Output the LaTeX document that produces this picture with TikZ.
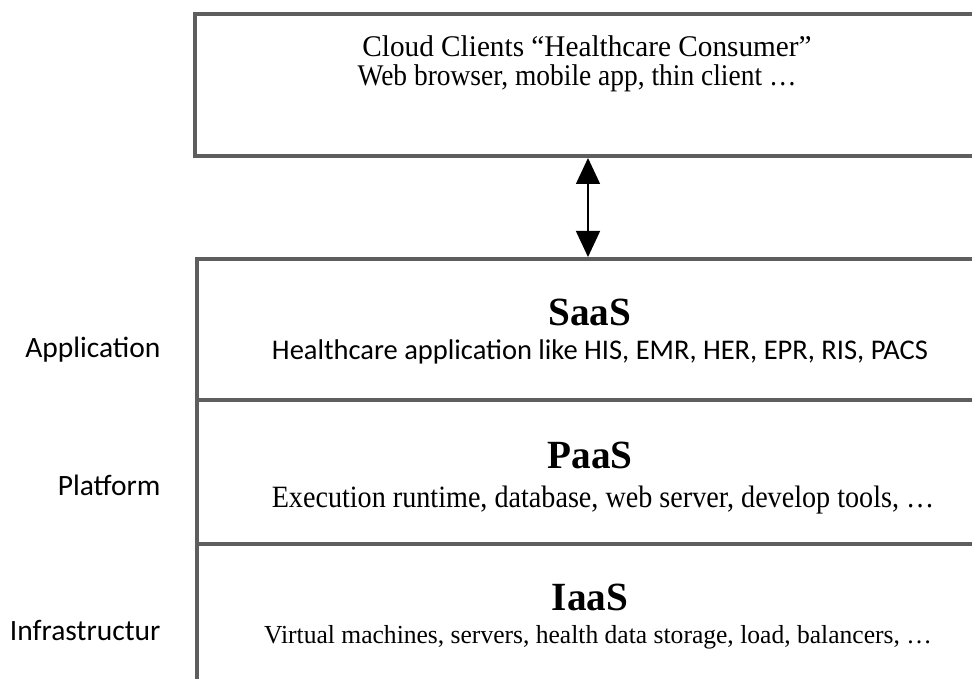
\documentclass[tikz,border=0pt]{standalone}
\usepackage{fontspec}
\setmainfont{Liberation Serif}
\newfontfamily\labelfont{Carlito}
\usetikzlibrary{positioning,arrows.meta}
\definecolor{boxgray}{HTML}{5E5E5E}

\begin{document}
\begin{tikzpicture}[x=1pt,y=-1pt,
    layer/.style={draw=boxgray, line width=4pt, anchor=north west, minimum width=830pt, inner sep=0pt},
    title/.style={font=\fontsize{40}{44}\selectfont\bfseries, xscale=0.98, transform shape},
    serifline/.style={font=\fontsize{30}{34}\selectfont, transform shape},
    sansline/.style={font=\labelfont\fontsize{28.5}{32}\selectfont},
    side/.style={font=\labelfont\fontsize{29.5}{32}\selectfont, anchor=east}]
\useasboundingbox (0,0) rectangle (972,679);
\clip (0,0) rectangle (972,679);

% boxes
\node[layer, minimum height=142pt] (client) at (193,12) {};
\node[layer, minimum height=141pt] (saas) at (195,257) {};
\node[layer, minimum height=144pt] (paas) at (195,398) {};
\node[layer, minimum height=160pt] (iaas) at (195,542) {};

% texts in the boxes
\node[serifline, xscale=0.975] (clienttop) at (587,46) {Cloud Clients “Healthcare Consumer”};
\node[serifline, xscale=0.915] (clientsub) at (577,78) {Web browser, mobile app, thin client …};
\node[title] (saastitle) at (590,312) {SaaS};
\node[sansline] (saassub) at (600,352) {Healthcare application like HIS, EMR, HER, EPR, RIS, PACS};
\node[title] (paastitle) at (590,455) {PaaS};
\node[serifline, font=\fontsize{31}{34}\selectfont, xscale=0.908] (paassub) at (603,500) {Execution runtime, database, web server, develop tools, …};
\node[title] (iaastitle) at (590,597) {IaaS};
\node[serifline, font=\fontsize{26}{30}\selectfont, xscale=0.983] (iaassub) at (598,637) {Virtual machines, servers, health data storage, load, balancers, …};

% layer names
\node[side] (app) at (164,350) {Application};
\node[side] (plat) at (164,485) {Platform};
\node[side] (infra) at (164,630) {Infrastructur};

% link
\coordinate (arrowx) at (588,0);
\draw[line width=1.5pt, {Triangle[width=24pt,length=26pt]}-{Triangle[width=24pt,length=26pt]}]
    (client.south -| arrowx) -- (saas.north -| arrowx);
\end{tikzpicture}
\end{document}
